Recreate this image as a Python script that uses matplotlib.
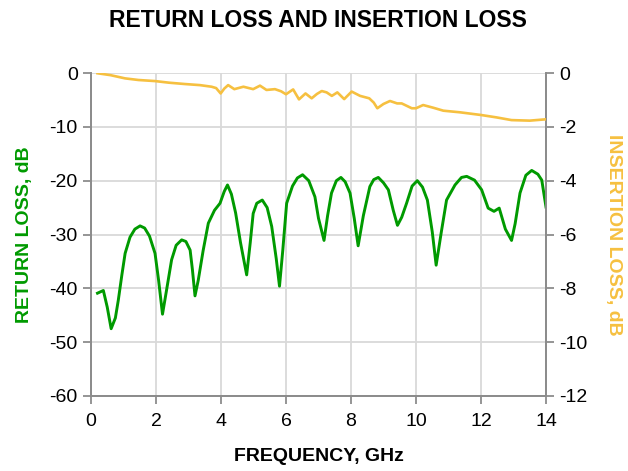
import numpy as np
from matplotlib import pyplot as plt

# return loss (left axis)
rl_freq = [0.2, 0.38, 0.5, 0.62, 0.75, 0.84, 0.95, 1.05, 1.2, 1.35, 1.51, 1.65, 1.8, 1.97,
           2.08, 2.2, 2.32, 2.48, 2.62, 2.79, 2.92, 3.05, 3.12, 3.2, 3.3, 3.45, 3.61, 3.8,
           3.97, 4.1, 4.2, 4.32, 4.45, 4.6, 4.79, 4.9, 4.99, 5.1, 5.27, 5.42, 5.56, 5.7,
           5.8, 5.9, 6.02, 6.2, 6.35, 6.51, 6.7, 6.89, 7.0, 7.17, 7.28, 7.4, 7.55, 7.69,
           7.82, 7.97, 8.1, 8.22, 8.38, 8.58, 8.7, 8.84, 9.0, 9.15, 9.3, 9.43, 9.56, 9.71,
           9.88, 10.04, 10.2, 10.35, 10.5, 10.62, 10.78, 10.94, 11.2, 11.4, 11.56, 11.8,
           12.02, 12.22, 12.4, 12.56, 12.75, 12.94, 13.05, 13.2, 13.38, 13.56, 13.75,
           13.87, 14.0]
rl_db = [-40.9, -40.4, -43.5, -47.5, -45.5, -42.2, -37.5, -33.5, -30.5, -29.0, -28.4, -28.8,
         -30.3, -33.5, -38.5, -44.8, -40.5, -34.7, -32.0, -31.0, -31.3, -32.9, -36.5, -41.4,
         -38.5, -33.0, -27.9, -25.5, -24.2, -22.0, -20.8, -22.5, -26.0, -31.5, -37.5, -31.5,
         -26.1, -24.2, -23.6, -25.0, -28.5, -34.5, -39.6, -33.0, -24.2, -21.0, -19.5, -18.9,
         -20.0, -23.0, -27.0, -31.1, -26.5, -22.3, -20.0, -19.4, -20.2, -22.3, -27.0, -32.1,
         -26.5, -21.1, -19.8, -19.4, -20.4, -21.7, -25.5, -28.3, -26.8, -24.2, -21.0, -20.0,
         -21.2, -23.6, -29.5, -35.7, -29.5, -23.6, -20.8, -19.4, -19.2, -19.9, -21.7, -25.1,
         -25.7, -25.1, -29.0, -31.1, -28.0, -22.3, -19.0, -18.1, -18.8, -19.9, -24.9]

# insertion loss (right axis)
il_freq = [0.2, 0.6, 1.05, 1.46, 1.97, 2.4, 2.89, 3.35, 3.71, 3.85, 3.99, 4.1, 4.22, 4.41,
           4.69, 4.99, 5.2, 5.4, 5.66, 5.85, 6.0, 6.22, 6.4, 6.6, 6.79, 6.95, 7.1, 7.25,
           7.41, 7.58, 7.79, 8.02, 8.28, 8.56, 8.7, 8.81, 9.0, 9.2, 9.42, 9.56, 9.87, 10.0,
           10.22, 10.53, 10.84, 11.35, 12.0, 12.48, 12.94, 13.5, 14.0]
il_db = [-0.01, -0.08, -0.2, -0.26, -0.3, -0.36, -0.41, -0.45, -0.51, -0.56, -0.76, -0.58,
         -0.45, -0.6, -0.51, -0.6, -0.47, -0.63, -0.6, -0.68, -0.79, -0.61, -0.98, -0.76,
         -0.94, -0.78, -0.67, -0.72, -0.85, -0.72, -0.97, -0.69, -0.85, -0.94, -1.1, -1.31,
         -1.15, -1.04, -1.13, -1.13, -1.31, -1.31, -1.19, -1.29, -1.4, -1.46, -1.56, -1.65,
         -1.75, -1.77, -1.72]

green = '#009a00'
yellow = '#f6c040'
gray = '#8c8c8c'

plt.rcParams['font.family'] = ['Liberation Sans', 'DejaVu Sans']
plt.rcParams['axes.unicode_minus'] = False

fig = plt.figure(figsize=(6.28, 4.71), dpi=100)
ax = fig.add_axes([91 / 628, 1 - 396 / 471, (546 - 91) / 628, (396 - 73) / 471])
ax2 = ax.twinx()

ax.set_xlim(0, 14)
ax.set_ylim(-60, 0)
ax2.set_ylim(-12, 0)
ax.set_xticks(np.arange(0, 15, 2))
ax.set_yticks(np.arange(-60, 1, 10))
ax2.set_yticks(np.arange(-12, 1, 2))

ax.grid(True, color='#d9d9d9', lw=1.3)
ax.set_axisbelow(True)

ax.plot(rl_freq, rl_db, color=green, lw=2.1, zorder=3, solid_joinstyle='round')
ax2.plot(il_freq, il_db, color=yellow, lw=1.9, zorder=3, solid_joinstyle='round')

for a in (ax, ax2):
    a.spines['top'].set_visible(False)
    for s in ('left', 'right', 'bottom'):
        a.spines[s].set_color(gray)
        a.spines[s].set_linewidth(1.3)
    a.tick_params(axis='both', colors=gray, labelcolor='black', labelsize=14,
                  length=6, width=1.3, direction='out')
ax.tick_params(axis='x', pad=6)

ax.set_xlabel('FREQUENCY, GHz', fontsize=14, fontweight='bold', labelpad=13)
ax.set_ylabel('RETURN LOSS, dB', fontsize=14, fontweight='bold', color=green, labelpad=12)
ax2.set_ylabel('INSERTION LOSS, dB', fontsize=14, fontweight='bold', color=yellow,
               rotation=270, labelpad=25)
fig.text(0.506, 0.957, 'RETURN LOSS AND INSERTION LOSS', ha='center', va='center',
         fontsize=16.5, fontweight='bold')

fig.savefig('out.png', dpi=100)
